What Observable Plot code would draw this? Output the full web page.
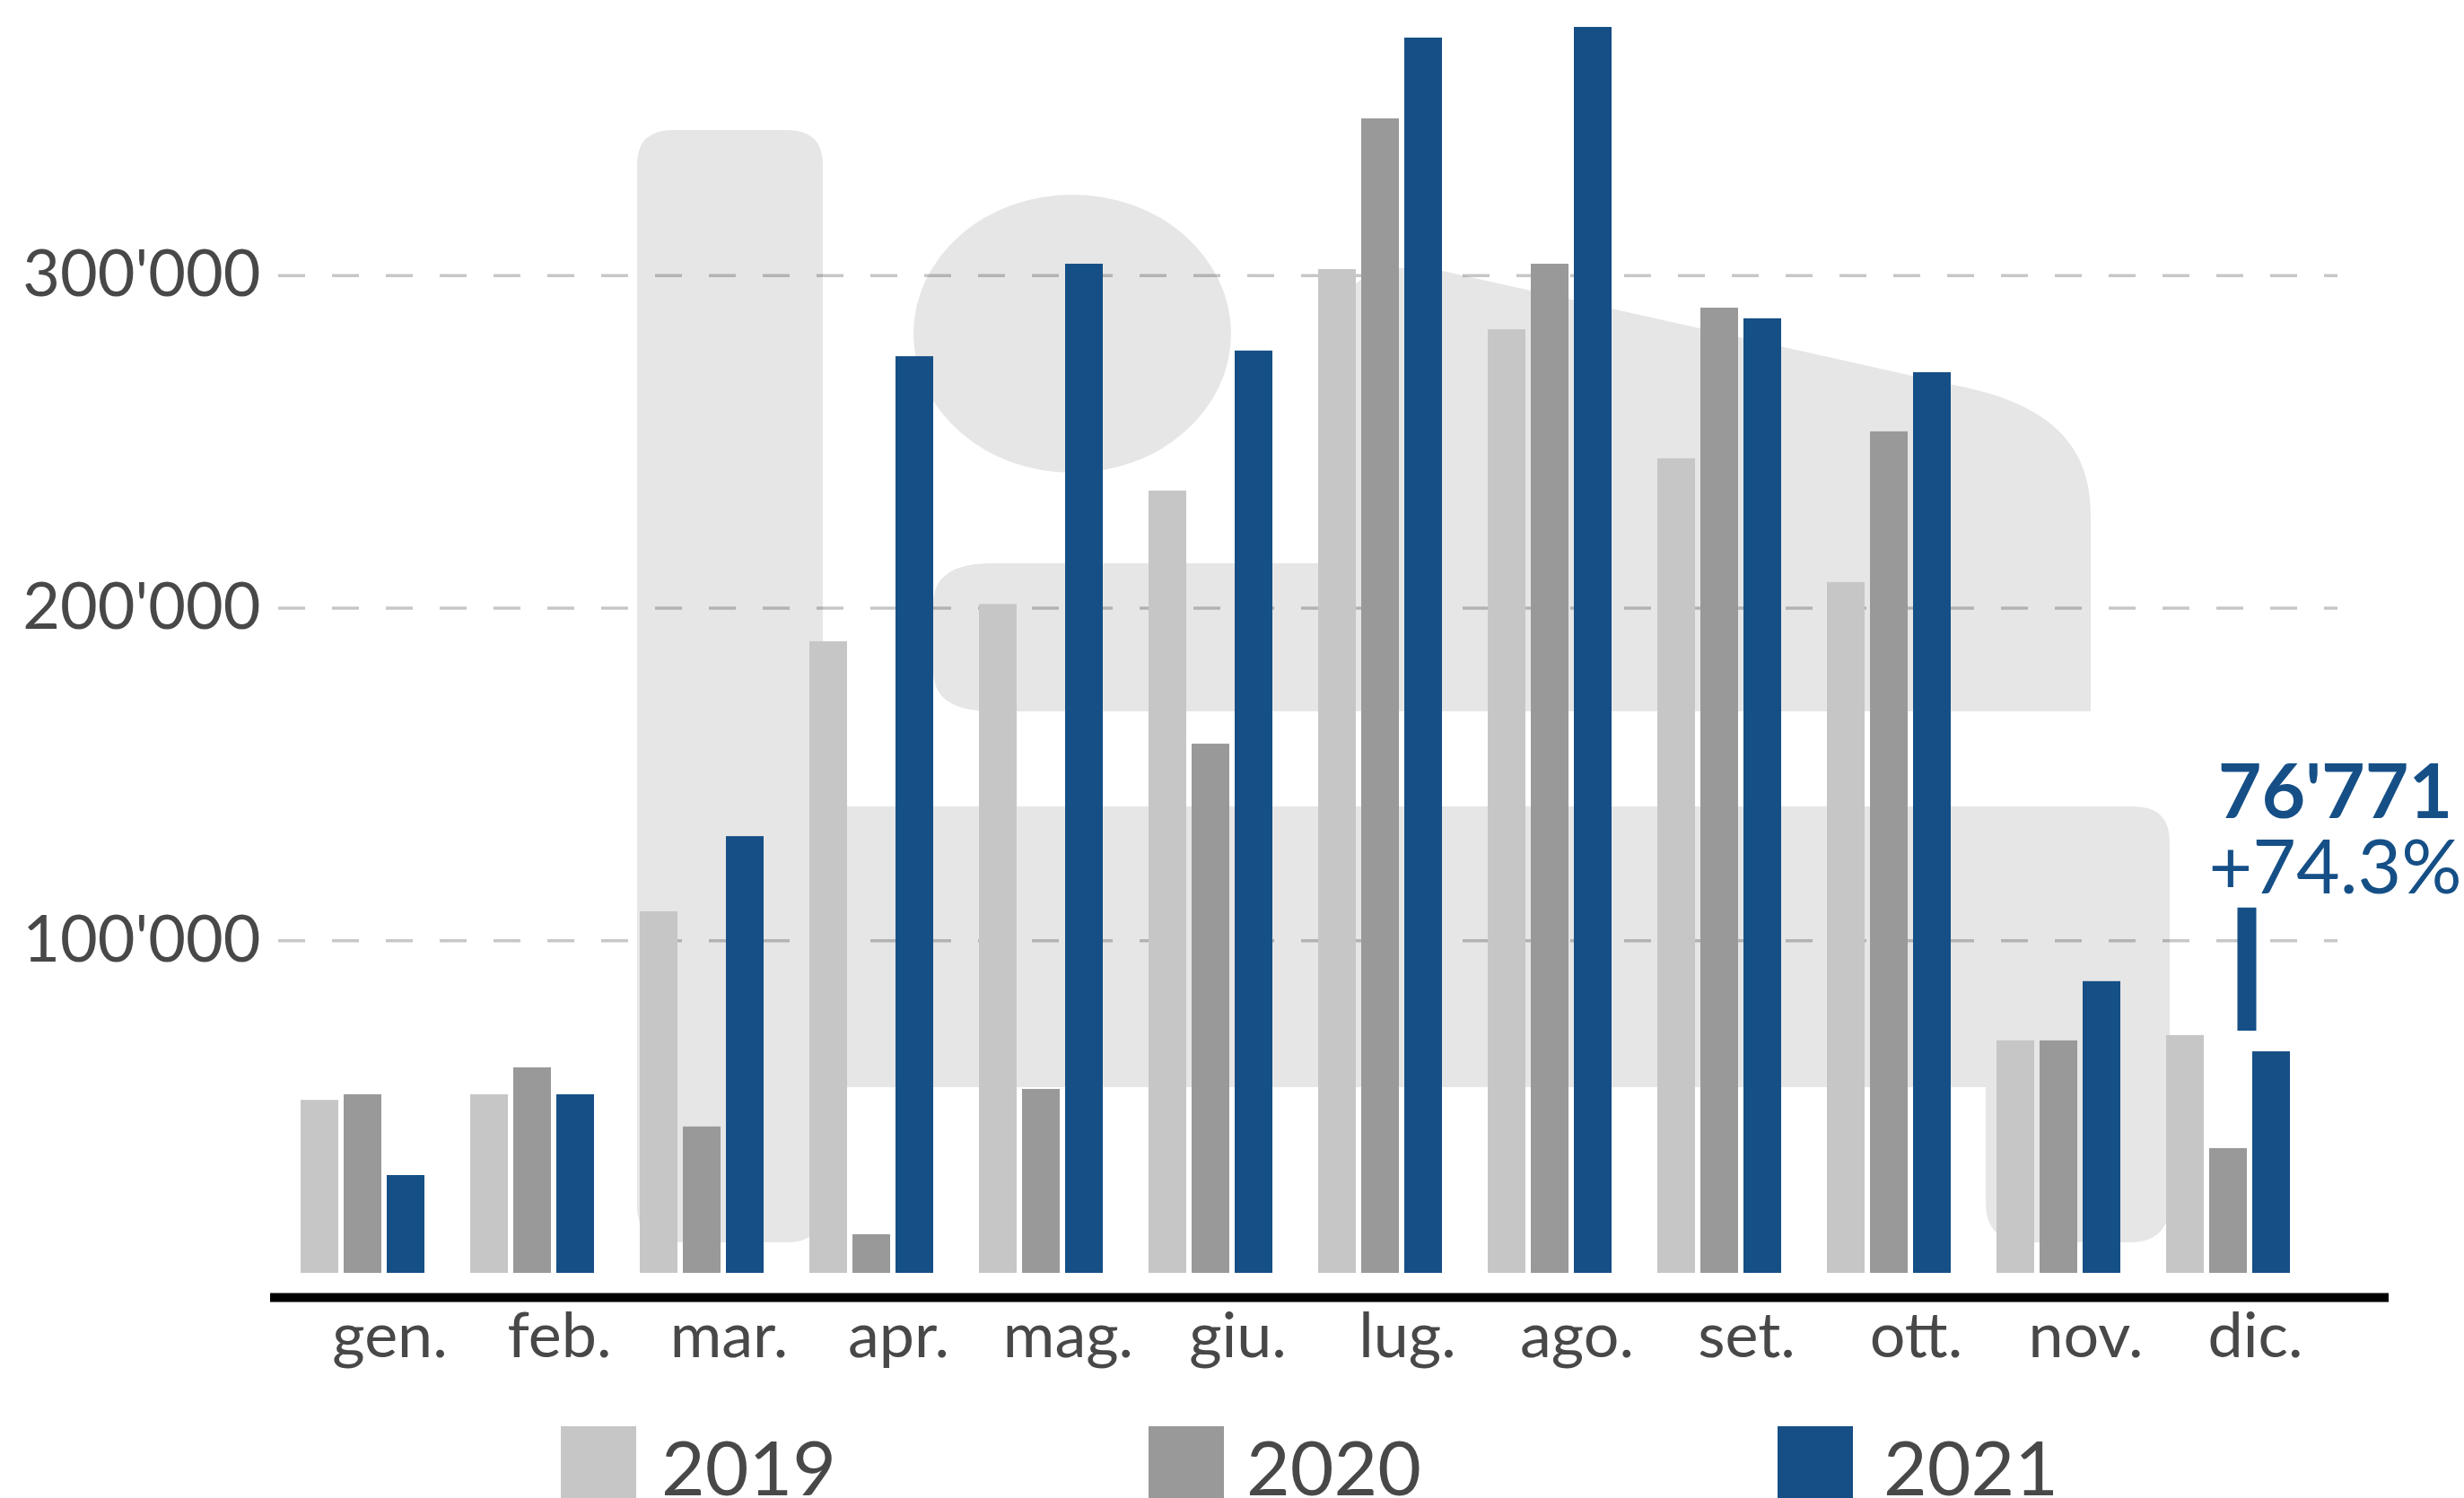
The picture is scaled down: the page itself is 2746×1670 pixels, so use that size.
<!DOCTYPE html>
<html>
<head>
<meta charset="utf-8">
<script src="https://cdn.jsdelivr.net/npm/d3@7"></script>
<script src="https://cdn.jsdelivr.net/npm/@observablehq/plot@0.6"></script>
<style>
  html, body { margin: 0; padding: 0; background: #ffffff; }
  body { width: 2746px; font-family: Lato, "Noto Sans", sans-serif; color: #484848; }
  #chart svg { display: block; }
  #legend { position: relative; height: 110px; margin-top: 10px; }
  .item { position: absolute; top: 0; }
  .swatch { position: absolute; top: 0; width: 84px; height: 84px; }
  .lab { position: absolute; top: 3px; font-size: 84px; line-height: 1; color: #484848; white-space: nowrap; }
</style>
</head>
<body>
<div id="chart"></div>
<div id="legend"></div>
<script>
// ---- data ----
const months = ["gen.", "feb.", "mar.", "apr.", "mag.", "giu.", "lug.", "ago.", "set.", "ott.", "nov.", "dic."];
const years = ["2019", "2020", "2021"];
const v2019 = [52000, 53700, 108700, 189900, 201100, 235200, 301800, 283700, 244900, 207700, 69900, 71500];
const v2020 = [53700, 61800, 44000, 11600, 55300, 159100, 347100, 303400, 290200, 253000, 69900, 37500];
const v2021 = [29400, 53700, 131300, 275600, 303400, 277300, 371400, 374600, 287000, 270800, 87700, 66600];
const yTicks = [100000, 200000, 300000];
const calloutValue = ["76'771"];
const calloutChange = ["+74.3%"];
const calloutMonth = ["dic."];

// ---- styles ----
const colors = {"2019": "#c6c6c6", "2020": "#999999", "2021": "#154f86"};
const textColor = "#484848";

const rows = (vals) => months.map((m, i) => ({month: m, value: vals[i]}));
const d2019 = rows(v2019), d2020 = rows(v2020), d2021 = rows(v2021);

const fmt = d3.formatLocale({decimal: ".", thousands: "'", grouping: [3], currency: ["", ""]}).format(",d");

const callout = [{month: calloutMonth[0], big: calloutValue[0], small: calloutChange[0], yBig: 136800, ySmall: 114200, y1: 72800, y2: 109800}];

const chart = Plot.plot({
  width: 2746,
  height: 1580,
  marginTop: 10,
  marginBottom: 161,
  marginLeft: 301,
  marginRight: 84,
  style: {fontFamily: "Lato, 'Noto Sans', sans-serif", color: textColor, background: "transparent"},
  x: {domain: months, type: "band", paddingInner: 0.271, paddingOuter: 0.3716, align: 0.234, label: null},
  y: {domain: [0, 380000], label: null},
  marks: [
    Plot.ruleY(yTicks, {stroke: "#000", strokeOpacity: 0.22, strokeWidth: 3.5, strokeDasharray: "30,30", insetLeft: 9, insetRight: 57}),
    Plot.barY(d2019, {x: "month", y: "value", fill: colors["2019"], insetLeft: 0, insetRight: 96}),
    Plot.barY(d2020, {x: "month", y: "value", fill: colors["2020"], insetLeft: 48, insetRight: 48}),
    Plot.barY(d2021, {x: "month", y: "value", fill: colors["2021"], insetLeft: 96, insetRight: 0}),
    Plot.ruleY([0], {stroke: "#000", strokeWidth: 10, dy: 27}),
    Plot.ruleX(callout, {x: "month", y1: "y1", y2: "y2", dx: 20.5, stroke: colors["2021"], strokeWidth: 21}),
    Plot.text(callout, {x: "month", y: "yBig", text: "big", dx: 119, lineAnchor: "bottom", textAnchor: "middle", fontSize: 84, fontWeight: "bold", fill: colors["2021"]}),
    Plot.text(callout, {x: "month", y: "ySmall", text: "small", dx: 119, lineAnchor: "bottom", textAnchor: "middle", fontSize: 84, fill: colors["2021"]}),
    Plot.axisX({tickSize: 0, tickPadding: 44, fontSize: 70, dx: 30, fill: textColor, label: null}),
    Plot.axisY({ticks: yTicks, tickSize: 0, tickPadding: 11, tickFormat: fmt, fontSize: 72, fill: textColor, label: null})
  ]
});

document.getElementById("chart").appendChild(chart);

// ---- decorative pictogram (bed) drawn behind the marks ----
const bedShapes = [
  // headboard
  "M710,183 Q710,145 750,145 L877,145 Q917,145 917,183 L917,1345 Q917,1385 877,1385 L750,1385 Q710,1385 710,1345 Z",
  // bed base with leg
  "M880,899 L2378,899 Q2418,899 2418,939 L2418,1340 Q2418,1385 2373,1385 L2258,1385 Q2213,1385 2213,1340 L2213,1212 L880,1212 Z",
  // pillow
  "M1040,673 Q1040,628 1105,628 L1500,628 L1500,793 L1105,793 Q1040,793 1040,748 Z",
  // blanket
  "M1480,793 L1480,380 Q1480,300 1585,297 L2176,429 C2290,450 2330,500 2330,575 L2330,793 Z"
];
const head = {cx: 1195, cy: 372, rx: 177, ry: 155};
const svgSel = d3.select(chart.tagName.toLowerCase() === "svg" ? chart : chart.querySelector("svg"));
const g = svgSel.insert("g", ":first-child").attr("fill", "#e6e6e6");
bedShapes.forEach(p => g.append("path").attr("d", p));
g.append("ellipse").attr("cx", head.cx).attr("cy", head.cy).attr("rx", head.rx).attr("ry", head.ry);

// ---- legend ----
const legendPos = {"2019": [625, 737], "2020": [1280, 1389], "2021": [1981, 2099]};
const legend = document.getElementById("legend");
years.forEach(y => {
  const sw = document.createElement("div");
  sw.className = "swatch";
  sw.style.left = legendPos[y][0] + "px";
  sw.style.background = colors[y];
  legend.appendChild(sw);
  const t = document.createElement("div");
  t.className = "lab";
  t.style.left = legendPos[y][1] + "px";
  t.textContent = y;
  legend.appendChild(t);
});
</script>
</body>
</html>
